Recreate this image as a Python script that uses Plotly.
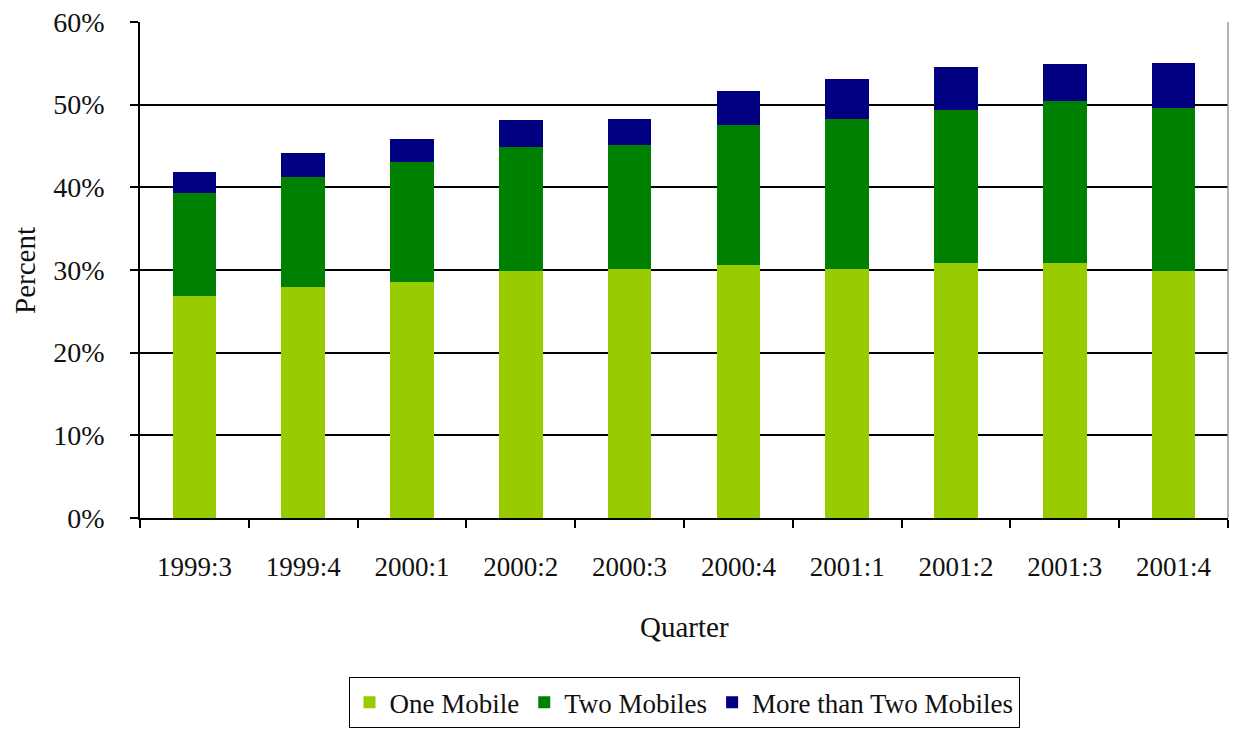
import plotly.graph_objects as go

quarters = ["1999:3", "1999:4", "2000:1", "2000:2", "2000:3",
            "2000:4", "2001:1", "2001:2", "2001:3", "2001:4"]
one_mobile = [26.9, 27.9, 28.6, 29.9, 30.1, 30.6, 30.1, 30.9, 30.9, 29.9]
two_mobiles = [12.4, 13.4, 14.5, 15.0, 15.0, 17.0, 18.2, 18.5, 19.5, 19.7]
more_than_two = [2.5, 2.8, 2.7, 3.2, 3.2, 4.0, 4.8, 5.2, 4.5, 5.5]

series = [
    ("One Mobile", one_mobile, "#99CC00"),
    ("Two Mobiles", two_mobiles, "#008000"),
    ("More than Two Mobiles", more_than_two, "#000080"),
]

FONT = "Liberation Serif, Times New Roman, serif"

fig = go.Figure()
for name, vals, color in series:
    fig.add_trace(go.Bar(
        x=quarters, y=vals, name=name,
        marker=dict(color=color, line=dict(width=0)),
    ))

fig.update_layout(
    barmode="stack",
    bargap=0.6,
    width=1235, height=731,
    margin=dict(l=140, r=7, t=22, b=213, autoexpand=False),
    paper_bgcolor="white",
    plot_bgcolor="white",
    font=dict(family=FONT, size=27, color="#111111"),
    showlegend=True,
    legend=dict(
        orientation="h",
        x=0.5, xanchor="center",
        y=-0.321, yanchor="top",
        bordercolor="#000000", borderwidth=1,
        font=dict(family=FONT, size=27),
        itemsizing="constant",
        itemwidth=30,
        traceorder="normal",
    ),
    xaxis=dict(
        type="category",
        tickson="boundaries",
        ticks="outside", ticklen=8, tickwidth=1.5, tickcolor="#000000",
        showline=True, linecolor="#000000", linewidth=1.5,
        showgrid=False,
        ticklabelstandoff=24,
        tickfont=dict(family=FONT, size=27),
    ),
    yaxis=dict(
        range=[0, 60],
        tickmode="array",
        tickvals=[0, 10, 20, 30, 40, 50, 60],
        ticktext=["0%", "10%", "20%", "30%", "40%", "50%", "60%"],
        ticks="outside", ticklen=8, tickwidth=1.5, tickcolor="#000000",
        showline=True, linecolor="#000000", linewidth=1.5,
        showgrid=True, gridcolor="#000000", gridwidth=1.5,
        zeroline=False,
        ticklabelstandoff=20,
        tickfont=dict(family=FONT, size=28),
    ),
    annotations=[
        dict(text="Quarter", xref="paper", yref="paper",
             x=0.5, y=-0.2198, xanchor="center", yanchor="middle",
             showarrow=False, font=dict(family=FONT, size=29)),
        dict(text="Percent", xref="paper", yref="paper",
             x=-0.1057, y=0.5, xanchor="center", yanchor="middle",
             textangle=-90, showarrow=False,
             font=dict(family=FONT, size=29)),
    ],
    shapes=[
        dict(type="line", xref="paper", yref="paper",
             x0=1, x1=1, y0=0, y1=1,
             line=dict(color="#999999", width=1.5)),
    ],
)

fig.write_html("out.html")
